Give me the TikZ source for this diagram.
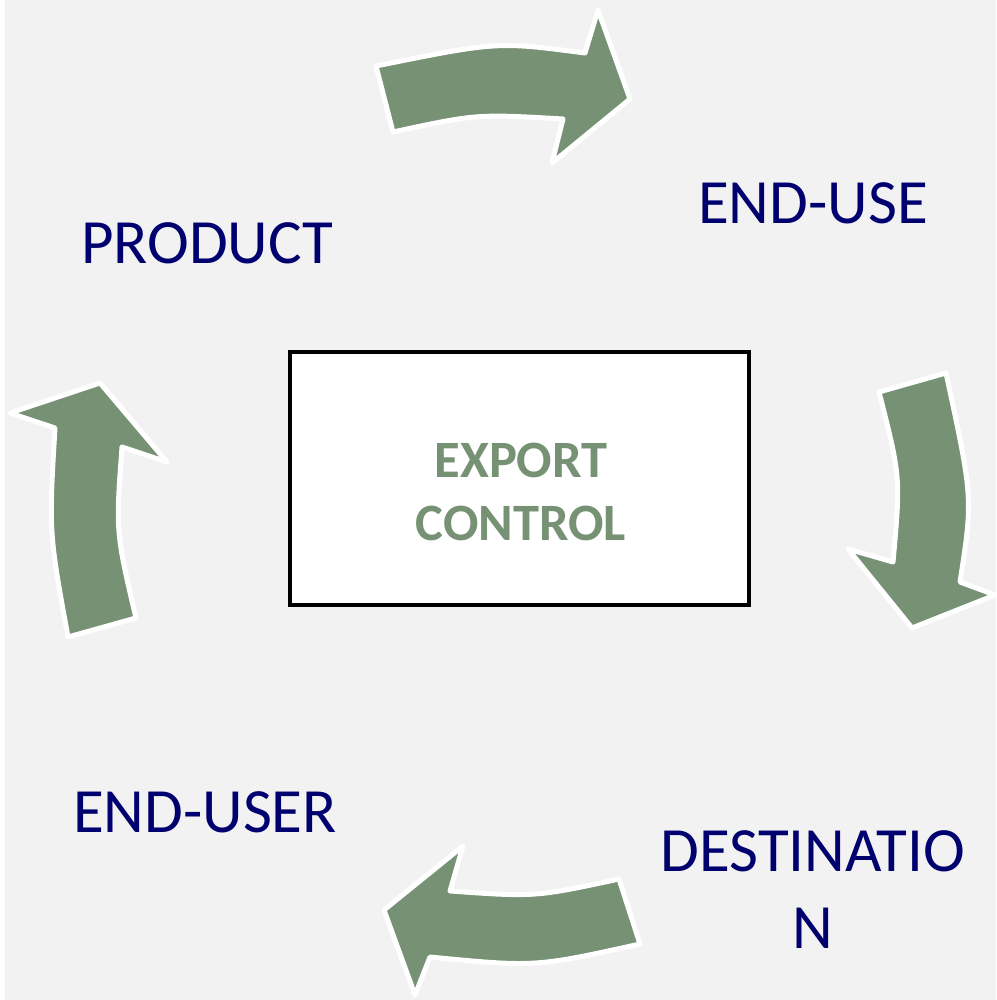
\documentclass[tikz,border=0pt]{standalone}
\usepackage{fontspec}
\setmainfont{Carlito}
\definecolor{bggray}{RGB}{242,242,242}
\definecolor{arrowgreen}{RGB}{118,145,115}
\definecolor{labelnavy}{RGB}{0,0,110}
\begin{document}
\begin{tikzpicture}[x=1pt,y=-1pt,
  cyclearrow/.style={fill=arrowgreen,draw=white,line width=5pt,line join=round},
  stagelabel/.style={text=labelnavy,font=\fontsize{63}{77}\selectfont,inner sep=0pt,align=center},
  centerbox/.style={draw=black,fill=white,line width=4pt,minimum width=459pt,minimum height=253pt,inner sep=0pt},
  centertext/.style={text=arrowgreen,font=\bfseries\fontsize{52.5}{63}\selectfont,inner sep=0pt,align=center}]
\useasboundingbox (0,0) rectangle (996,1000);
\fill[white] (0,0) rectangle (996,1000);
\fill[bggray] (5,0) rectangle (996,1000);

% top arrow (PRODUCT -> END-USE)
\draw[cyclearrow] (376,66) .. controls (497.2,41.5) .. (585,53) -- (598,10) -- (630,99) -- (552,163) -- (563,119)
  .. controls (476.5,114) .. (393,132) -- cycle;
% right arrow (END-USE -> DESTINATION)
\draw[cyclearrow] (879,392) -- (946,373) .. controls (973,498.1) .. (960,582) -- (995,595) -- (912,628) -- (848,549)
  -- (893,562) .. controls (900.7,477) .. cycle;
% bottom arrow (DESTINATION -> END-USER)
\draw[cyclearrow] (619,879) -- (640,944) .. controls (535,967.2) .. (430,957) -- (415,995) -- (384,910) -- (463,846)
  -- (450,891) .. controls (535.2,897) .. cycle;
% left arrow (END-USER -> PRODUCT)
\draw[cyclearrow] (68,637) -- (136,618) .. controls (115.7,531.8) .. (122,447) -- (167,462) -- (100,383) -- (10,413)
  -- (55,428) .. controls (48.8,531.8) .. cycle;

\node[centerbox] (box) at (519.5,478.5) {};
\node[centertext] (ec) at (521,492) {EXPORT\\CONTROL};

\node[stagelabel,anchor=base] (product) at (207,263) {PRODUCT};
\node[stagelabel,anchor=base] (enduse) at (813,224) {END-USE};
\node[stagelabel,anchor=base] (enduser) at (205,832) {END-USER};
\node[stagelabel] (destination) at (813,890) {DESTINATIO\\N};
\end{tikzpicture}
\end{document}
